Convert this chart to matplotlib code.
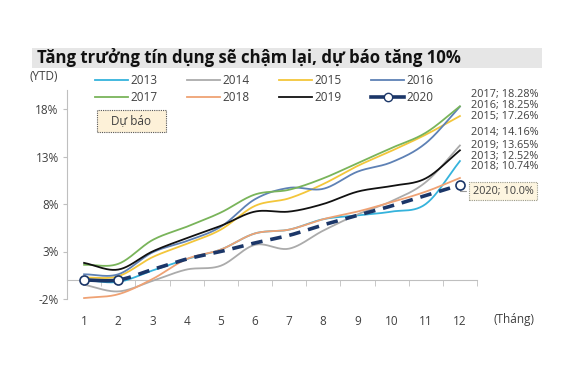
import numpy as np
import matplotlib
matplotlib.use('Agg')
import matplotlib.pyplot as plt
from matplotlib.patches import Rectangle

plt.rcParams['font.family'] = ['Open Sans', 'DejaVu Sans']

months = list(range(1, 13))
years = ['2013', '2014', '2015', '2016', '2017', '2018', '2019', '2020']

g2013 = [0.0, -0.2, 1.0, 2.2, 3.2, 4.9, 5.3, 6.4, 6.8, 7.2, 8.0, 12.52]
g2014 = [-0.5, -1.2, -0.1, 1.1, 1.5, 3.7, 3.3, 5.2, 6.9, 8.3, 10.3, 14.16]
g2015 = [0.25, 0.4, 2.4, 3.8, 5.3, 7.8, 8.6, 10.1, 12.0, 13.6, 15.3, 17.26]
g2016 = [0.6, 0.6, 2.9, 4.1, 5.6, 8.5, 9.7, 9.6, 11.4, 12.4, 14.4, 18.25]
g2017 = [1.6, 1.7, 4.2, 5.6, 7.1, 9.0, 9.5, 10.7, 12.3, 13.9, 15.5, 18.28]
g2018 = [-1.9, -1.5, 0.1, 2.2, 3.2, 4.9, 5.3, 6.4, 7.2, 8.2, 9.3, 10.74]
g2019 = [1.8, 1.1, 3.0, 4.4, 5.7, 7.2, 7.2, 8.0, 9.3, 9.9, 10.7, 13.65]
g2020 = [0.0, 0.0, 1.1, 2.2, 3.0, 3.9, 4.7, 5.8, 6.8, 7.8, 8.9, 10.0]

series = [g2013, g2014, g2015, g2016, g2017, g2018, g2019, g2020]
colors = ['#35B3DC', '#ABABAB', '#F3C63A', '#5E81B5', '#79B45A', '#EFA274', '#111111', '#1B3668']

W, H = 587, 391


def smooth(x, y, n=24):
    # catmull-rom curve through the points, like Excel's smoothed line
    x = np.asarray(x, float)
    y = np.asarray(y, float)
    px = np.concatenate([[2 * x[0] - x[1]], x, [2 * x[-1] - x[-2]]])
    py = np.concatenate([[2 * y[0] - y[1]], y, [2 * y[-1] - y[-2]]])
    xs, ys = [], []
    t = np.linspace(0, 1, n, endpoint=False)
    for i in range(1, len(px) - 2):
        for P, out in ((px, xs), (py, ys)):
            p0, p1, p2, p3 = P[i - 1], P[i], P[i + 1], P[i + 2]
            out.extend(0.5 * (2 * p1 + (-p0 + p2) * t + (2 * p0 - 5 * p1 + 4 * p2 - p3) * t ** 2
                              + (-p0 + 3 * p1 - 3 * p2 + p3) * t ** 3))
    xs.append(x[-1])
    ys.append(y[-1])
    return np.array(xs), np.array(ys)


fig = plt.figure(figsize=(W / 100, H / 100), dpi=100)
ax = fig.add_axes([67 / W, 1 - 299 / H, 410 / W, 209 / H])

handles = []
for yr, vals, c in zip(years[:-1], series[:-1], colors[:-1]):
    sx, sy = smooth(months, vals)
    h, = ax.plot(sx, sy, color=c, lw=1.3, label=yr, zorder=3)
    handles.append(h)

# 2020: actual for the first two months, forecast afterwards
sx, sy = smooth(months, g2020)
cut = sx <= 2
ax.plot(sx[cut], sy[cut], color=colors[-1], lw=2.6, zorder=5)
ax.plot(sx[~cut], sy[~cut], color=colors[-1], lw=2.6, dashes=(3.2, 2.2), zorder=5)
mk = [0, 1, 11]
ax.plot([months[i] for i in mk], [g2020[i] for i in mk], 'o', ms=6.5, mfc='white',
        mec=colors[-1], mew=1.2, zorder=6)
h20, = ax.plot([], [], color=colors[-1], lw=2.6, marker='o', ms=6, mfc='white', mec=colors[-1])
handles.append(h20)

ax.set_xlim(0.5, 12.5)
ax.set_ylim(-2, 20)
ax.set_yticks([-2, 3, 8, 13, 18])
ax.set_yticklabels(['-2%', '3%', '8%', '13%', '18%'])
ax.set_xticks(months)
ax.set_xticks(np.arange(1.5, 12.6, 1), minor=True)

for s in ['top', 'right']:
    ax.spines[s].set_visible(False)
ax.spines['left'].set_color('#BFBFBF')
ax.spines['bottom'].set_color('#BFBFBF')
ax.spines['bottom'].set_position(('data', 0))
ax.tick_params(axis='y', colors='#BFBFBF', labelcolor='#404040', labelsize=8.5, length=3, pad=3)
ax.tick_params(axis='x', which='major', length=0, labelcolor='#404040', labelsize=8.5, pad=25)
ax.tick_params(axis='x', which='minor', length=4, colors='#BFBFBF')

# labels at the end of each line
lab_y = [13.0, 15.5, 17.25, 18.35, 19.5, 11.9, 14.15]
for yr, vals, ly in zip(years[:-1], series[:-1], lab_y):
    ax.text(12.32, ly, f'{yr}; {vals[-1]:.2f}%', fontsize=7.8, color='#404040',
            va='center', ha='left', clip_on=False)
ax.annotate(f'2020; {g2020[-1]:.1f}%', xy=(12, g2020[-1]), xytext=(12.38, 9.35),
            fontsize=7.8, color='#404040', va='center', ha='left', annotation_clip=False,
            bbox=dict(boxstyle='square,pad=0.35', fc='#FDF5E0', ec='#9A9A8A', lw=0.8, ls=(0, (1, 1))),
            arrowprops=dict(arrowstyle='-', color='#9A9A9A', lw=0.8,
                            connectionstyle='angle,angleA=0,angleB=90,rad=0'))

# title band
fig.patches.append(Rectangle((32 / W, 1 - 68 / H), 510 / W, 20 / H, transform=fig.transFigure,
                             fc='#E6E6E6', ec='none', zorder=0))
fig.text(37 / W, 1 - 58 / H, 'Tăng trưởng tín dụng sẽ chậm lại, dự báo tăng 10%',
         fontsize=12.1, fontweight='bold', color='#111111', va='center', ha='left')
fig.text(30 / W, 1 - 76 / H, '(YTD)', fontsize=8.5, color='#404040', va='center')
fig.text(493 / W, 1 - 320 / H, '(Tháng)', fontsize=8.5, color='#404040', va='center')

# legend in two rows, filled row by row
order = [0, 4, 1, 5, 2, 6, 3, 7]
leg = fig.legend([handles[i] for i in order], [years[i] for i in order], loc='upper left',
                 bbox_to_anchor=(95 / W, 1 - 74 / H),
                 ncol=4, frameon=False, fontsize=8.5, handlelength=2.8, handletextpad=0.2,
                 columnspacing=2.5, labelspacing=0.35, borderaxespad=0, borderpad=0)
for t in leg.get_texts():
    t.set_color('#404040')

# forecast note
fig.patches.append(Rectangle((97 / W, 1 - 132 / H), 69 / W, 22 / H, transform=fig.transFigure,
                             fc='#FDF1D8', ec='#555555', lw=0.8, ls=(0, (1, 1)), zorder=1))
fig.text(131 / W, 1 - 121 / H, 'Dự báo', fontsize=8.5, color='#404040', va='center', ha='center')

fig.savefig('out.png', dpi=100)
